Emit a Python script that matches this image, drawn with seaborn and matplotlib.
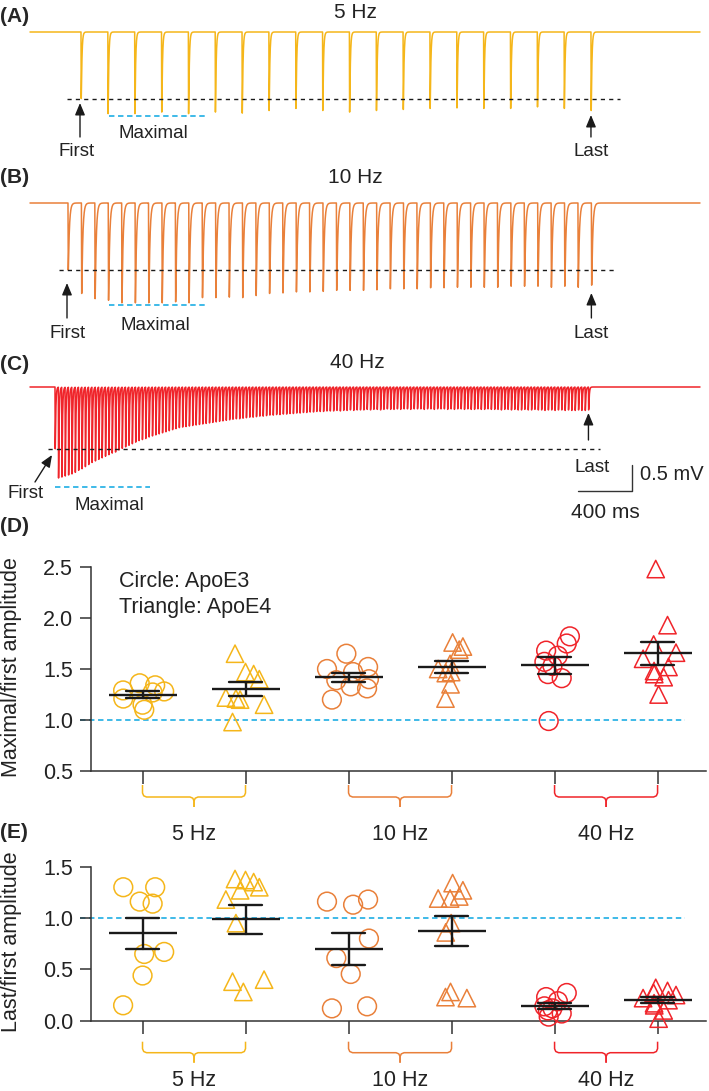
import numpy as np
import pandas as pd
import matplotlib
matplotlib.use('Agg')
from matplotlib import pyplot as plt
import seaborn as sns

# example recordings: depth (mV) of each response in the train
AMP_5HZ = [1.28, 1.57, 1.57, 1.54, 1.57, 1.54, 1.56, 1.51, 1.47, 1.51,
           1.54, 1.51, 1.49, 1.47, 1.46, 1.47, 1.47, 1.44, 1.47, 1.51]
AMP_10HZ = [1.29, 1.74, 1.84, 1.87, 1.92, 1.92, 1.92, 1.92, 1.90, 1.92,
            1.82, 1.82, 1.81, 1.82, 1.78, 1.74, 1.73, 1.71, 1.71, 1.70,
            1.68, 1.68, 1.68, 1.67, 1.65, 1.65, 1.65, 1.63, 1.63, 1.62,
            1.62, 1.62, 1.62, 1.60, 1.60, 1.60, 1.62, 1.60, 1.62, 1.58]
AMP_40HZ = [1.19,
            1.75, 1.73, 1.71, 1.69, 1.67, 1.64, 1.60, 1.57, 1.53, 1.49,
            1.45, 1.42, 1.39, 1.36, 1.33, 1.30, 1.27, 1.25, 1.21, 1.18,
            1.15, 1.12, 1.09, 1.06, 1.03, 1.01, 0.99, 0.96, 0.94, 0.92,
            0.90, 0.88, 0.86, 0.84, 0.82, 0.80, 0.78, 0.77, 0.76, 0.75,
            0.74, 0.73, 0.72, 0.71, 0.70, 0.69, 0.68, 0.67, 0.66, 0.65,
            0.64, 0.63, 0.62, 0.61, 0.61, 0.60, 0.59, 0.58, 0.58, 0.57,
            0.56, 0.56, 0.55, 0.54, 0.54, 0.53, 0.53, 0.52, 0.52, 0.51,
            0.51, 0.50, 0.50, 0.49, 0.49, 0.48, 0.48, 0.47, 0.47, 0.47,
            0.46, 0.46, 0.46, 0.45, 0.46, 0.45, 0.45, 0.44, 0.45, 0.44,
            0.44, 0.44, 0.43, 0.44, 0.43, 0.43, 0.44, 0.43, 0.42, 0.43,
            0.43, 0.42, 0.43, 0.42, 0.42, 0.43, 0.42, 0.42, 0.42, 0.43,
            0.42, 0.42, 0.43, 0.42, 0.42, 0.42, 0.43, 0.42, 0.43, 0.42,
            0.42, 0.43, 0.42, 0.43, 0.43, 0.42, 0.43, 0.43, 0.42, 0.43,
            0.43, 0.43, 0.44, 0.43, 0.43, 0.44, 0.43, 0.44, 0.44, 0.43,
            0.44, 0.44, 0.43, 0.44, 0.44, 0.45, 0.44, 0.44, 0.45, 0.44,
            0.44, 0.45, 0.44, 0.45, 0.45, 0.44, 0.45, 0.45, 0.44]

FREQS = ['5 Hz', '10 Hz', '40 Hz']
PERIODS = [200, 100, 25]
GENOS = ['ApoE3', 'ApoE4']

# (D) maximal / first amplitude
MAX_E3_5HZ = [1.21, 1.34, 1.36, 1.27, 1.28, 1.10, 1.15, 1.29]
MAX_E4_5HZ = [1.65, 1.47, 1.45, 1.40, 1.20, 1.22, 1.21, 1.15, 0.98]
MAX_E3_10HZ = [1.65, 1.52, 1.50, 1.47, 1.40, 1.39, 1.33, 1.31, 1.20]
MAX_E4_10HZ = [1.76, 1.72, 1.69, 1.55, 1.50, 1.47, 1.46, 1.35, 1.21]
MAX_E3_40HZ = [1.82, 1.75, 1.68, 1.63, 1.57, 1.53, 1.45, 1.41, 0.99]
MAX_E4_40HZ = [2.48, 1.93, 1.74, 1.66, 1.60, 1.52, 1.48, 1.45, 1.42, 1.25]

# (E) last / first amplitude
LAST_E3_5HZ = [1.30, 1.30, 1.16, 1.14, 0.67, 0.65, 0.44, 0.15]
LAST_E4_5HZ = [1.38, 1.37, 1.35, 1.30, 1.27, 1.18, 0.95, 0.40, 0.38, 0.28]
LAST_E3_10HZ = [1.18, 1.16, 1.13, 0.80, 0.61, 0.455, 0.14, 0.12]
LAST_E4_10HZ = [1.34, 1.27, 1.21, 1.19, 1.19, 0.95, 0.86, 0.28, 0.23, 0.22]
LAST_E3_40HZ = [0.27, 0.23, 0.19, 0.14, 0.12, 0.10, 0.07, 0.04]
LAST_E4_40HZ = [0.32, 0.29, 0.27, 0.25, 0.22, 0.20, 0.17, 0.15, 0.10, 0.02]

COLORS = ['#F5B61A', '#E9803A', '#F0242A']
CYAN = '#2FB4E6'

W, H = 709, 1091
K = 0.1342   # px per ms
MV = 52.0    # px per mV


def fx(px):
    return px / W


def fy(py):
    return 1 - py / H


def make_trace(amps, period, first, tr, td):
    t = np.arange((30 - first) / K, (700 - first) / K, 0.25)
    v = np.zeros_like(t)
    tp = tr * td / (td - tr) * np.log(td / tr)
    peak = np.exp(-tp / td) - np.exp(-tp / tr)
    for i, a in enumerate(amps):
        dt = t - i * period
        m = dt >= 0
        v[m] -= a * (np.exp(-dt[m] / td) - np.exp(-dt[m] / tr)) / peak
    return t, v


ARROW = dict(arrowstyle='-|>,head_length=0.6,head_width=0.25', color='k',
             lw=1.0, shrinkA=0, shrinkB=0)


def trace_panel(top, bottom, base, first, amps, period, color, td, notes):
    ax = fig.add_axes([0, fy(bottom), 1, (bottom - top) / H])
    ax.set_xlim(-first / K, (W - first) / K)
    ax.set_ylim(-(bottom - base) / MV, (base - top) / MV)
    ax.axis('off')
    tx = lambda px: (px - first) / K
    vy = lambda py: -(py - base) / MV
    t, v = make_trace(amps, period, first, 0.8, td)
    sns.lineplot(x=t, y=v, ax=ax, color=color, lw=1.1, estimator=None)
    last_t = (len(amps) - 1) * period
    ax.hlines(-amps[0], tx(notes['dash'][0]), tx(notes['dash'][1]), colors='k',
              linestyles=(0, (3, 3)), lw=1.0)
    ax.hlines(vy(notes['cyan'][2]), tx(notes['cyan'][0]), tx(notes['cyan'][1]),
              colors=CYAN, linestyles=(0, (3, 2)), lw=1.3)
    (x0, y0), (x1, y1) = notes['first']
    ax.annotate('', xy=(tx(x1), vy(y1)), xytext=(tx(x0), vy(y0)), arrowprops=ARROW)
    ax.annotate('', xy=(last_t, vy(notes['last'][1])),
                xytext=(last_t, vy(notes['last'][0])), arrowprops=ARROW)
    return ax, tx, vy


sns.set_theme(style='ticks')
plt.rcParams['font.family'] = ['Liberation Sans', 'DejaVu Sans']
fig = plt.figure(figsize=(W / 100, H / 100), dpi=100)

trace_panel(0, 165, 32, 81, AMP_5HZ, PERIODS[0], COLORS[0], 5,
            dict(dash=(67, 620), cyan=(109, 207, 116),
                 first=((80, 137), (80, 103)), last=(137, 115)))
trace_panel(165, 345, 203, 68, AMP_10HZ, PERIODS[1], COLORS[1], 8,
            dict(dash=(59, 614), cyan=(109, 207, 305),
                 first=((67, 318), (67, 283)), last=(318, 293)))
axC, txC, vyC = trace_panel(345, 520, 387, 55, AMP_40HZ, PERIODS[2], COLORS[2], 4,
                            dict(dash=(48, 600), cyan=(55, 150, 487),
                                 first=((35, 482), (52, 455)), last=(440, 413)))
# scale bar 400 ms / 0.5 mV
cx, cy = txC(632), vyC(491)
axC.plot([cx - 400, cx, cx], [cy, cy, cy + 0.5], color='#333333', lw=1.0)

texts = [('5 Hz', 355, 13, 15), ('10 Hz', 355, 177, 15), ('40 Hz', 357, 362, 15),
         ('Maximal', 153, 133, 13.5), ('First', 77, 152, 13.5), ('Last', 591, 151, 13.5),
         ('Maximal', 155, 325, 13.5), ('First', 68, 334, 13.5), ('Last', 591, 333, 13.5),
         ('First', 26, 493, 13.5), ('Maximal', 109, 505, 13.5), ('Last', 592, 468, 13.5),
         ('400 ms', 605, 513, 15)]
for s, x, y, size in texts:
    fig.text(fx(x), fy(y), s, ha='center', va='center', fontsize=size, color='#222222')
fig.text(fx(640), fy(474), '0.5 mV', ha='left', va='center', fontsize=14.5, color='#222222')
for s, y in [('(A)', 16), ('(B)', 177), ('(C)', 365), ('(D)', 527), ('(E)', 832)]:
    fig.text(fx(0), fy(y), s, ha='left', va='center', fontsize=15, fontweight='bold')

# ---- summary panels
CONDS = [f'{f} {g}' for f in FREQS for g in GENOS]


def build_df(groups):
    frames = [pd.DataFrame({'cond': c, 'val': vals}) for c, vals in zip(CONDS, groups)]
    return pd.concat(frames, ignore_index=True)


max_df = build_df([MAX_E3_5HZ, MAX_E4_5HZ, MAX_E3_10HZ, MAX_E4_10HZ, MAX_E3_40HZ, MAX_E4_40HZ])
last_df = build_df([LAST_E3_5HZ, LAST_E4_5HZ, LAST_E3_10HZ, LAST_E4_10HZ,
                    LAST_E3_40HZ, LAST_E4_40HZ])


def brace(ax, x0, x1, top, mid, bot, color):
    h = ax.get_position().height * H
    trans = ax.get_xaxis_transform()
    f = lambda p: -p / h
    xm, rx, r = (x0 + x1) / 2, 4 / 103, 4
    for a, s in [(x0, 1), (x1, -1)]:
        xs = [a, a, a + s * 0.3 * rx, a + s * rx, xm - s * rx, xm - s * 0.3 * rx, xm, xm]
        ys = [top, mid - r, mid - 0.3 * r, mid, mid, mid + 0.3 * r, mid + r, bot]
        ax.plot(xs, [f(y) for y in ys], transform=trans, color=color, lw=1.1,
                clip_on=False, solid_capstyle='butt')


def summary_panel(rect, df, ylim, ticks, label_dy, brace_px):
    ax = fig.add_axes(rect)
    np.random.seed(7)
    for i, cond in enumerate(CONDS):
        color = COLORS[i // 2]
        sub = df[df['cond'] == cond]
        n0 = len(ax.collections)
        sns.stripplot(data=sub, x='cond', y='val', order=CONDS,
                      ax=ax, color=color, marker='o' if i % 2 == 0 else '^',
                      size=13.5 if i % 2 == 0 else 12.5, jitter=0.22, linewidth=1.1)
        for coll in ax.collections[n0:]:
            coll.set_facecolor('none')
            coll.set_edgecolor(color)
            coll.set_linewidth(1.1)
            if len(coll.get_offsets()) == len(sub):
                coll.set_clip_on(False)
            else:
                coll.set_visible(False)
    sns.pointplot(data=df, x='cond', y='val', order=CONDS, errorbar='se', capsize=0.32,
                  color='k', marker='_', markersize=49, markeredgewidth=1.7,
                  linestyle='none', err_kws={'linewidth': 1.7, 'zorder': 5}, zorder=5, ax=ax)
    ax.plot([-0.61, 5.27], [1, 1], color=CYAN, lw=1.3, ls=(0, (3, 2)), clip_on=False, zorder=0)
    ax.set_xlim(-0.5, 5.47)
    ax.set_ylim(*ylim)
    ax.set_yticks(ticks)
    ax.set_yticklabels([f'{t:.1f}' for t in ticks])
    ax.set_xticks(range(6))
    ax.set_xticklabels([])
    ax.set_xlabel('')
    ax.set_ylabel('')
    sns.despine(ax=ax)
    for sp in ['left', 'bottom']:
        ax.spines[sp].set_linewidth(1.1)
        ax.spines[sp].set_color('#333333')
    ax.tick_params(axis='y', direction='out', length=8, width=1.1, color='#333333',
                   labelsize=15.5, pad=5, labelcolor='#222222')
    ax.tick_params(axis='x', direction='out', length=9, width=1.1, color='#333333')
    h = ax.get_position().height * H
    for j, f in enumerate(FREQS):
        brace(ax, 2 * j, 2 * j + 1, *brace_px, COLORS[j])
        ax.text(2 * j + 0.5, -label_dy / h, f, transform=ax.get_xaxis_transform(),
                ha='center', va='center', fontsize=15.5, color='#222222')
    return ax


axD = summary_panel([fx(91), fy(771), fx(706) - fx(91), (771 - 567) / H], max_df,
                    (0.5, 2.5), [0.5, 1.0, 1.5, 2.0, 2.5], 64, (14, 26, 36))
axE = summary_panel([fx(91), fy(1020.7), fx(706) - fx(91), (1020.7 - 866.7) / H], last_df,
                    (0.0, 1.5), [0.0, 0.5, 1.0, 1.5], 60, (21, 32, 42))

fig.text(fx(119), fy(582), 'Circle: ApoE3', ha='left', va='center', fontsize=15.5, color='#222222')
fig.text(fx(119), fy(607), 'Triangle: ApoE4', ha='left', va='center', fontsize=15.5, color='#222222')
fig.text(fx(12), fy(667), 'Maximal/first amplitude', rotation=90, ha='center', va='center',
         fontsize=15.5, color='#222222')
fig.text(fx(12), fy(942), 'Last/first amplitude', rotation=90, ha='center', va='center',
         fontsize=15.5, color='#222222')

fig.savefig('out.png', dpi=100)
